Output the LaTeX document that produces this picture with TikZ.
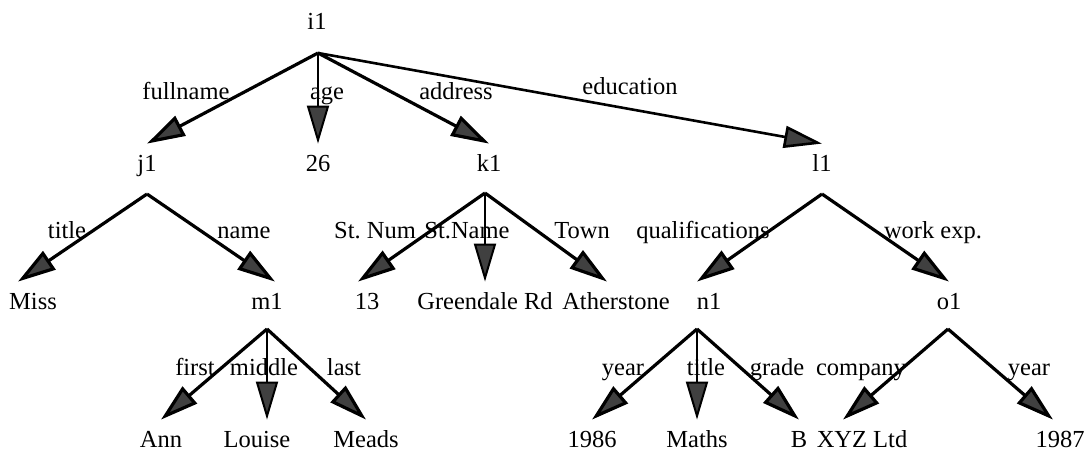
\documentclass[tikz,border=0pt]{standalone}
\usepackage{fontspec}
\setmainfont{Liberation Serif}
\usetikzlibrary{arrows.meta,calc}
\frenchspacing

\begin{document}
\begin{tikzpicture}[
    x=0.5pt, y=-0.5pt,
    txt/.style={anchor=base, inner sep=0pt, font=\fontsize{12.25}{14}\selectfont},
    val/.style={txt, inner ysep=5pt, text height=8.5pt, text depth=0pt},
    lab/.style={txt},
    arc/.style={line width=1.6pt, -{Triangle[length=19pt, width=11pt, fill=black!75]}},
    varc/.style={arc, line width=1pt}
]
\useasboundingbox (0,0) rectangle (1087,451);

\node[val] (i1) at (317,29) {i1};
\node[val] (j1) at (147,171) {j1};
\node[val] (age) at (318,171) {26};
\node[val] (k1) at (489,171) {k1};
\node[val] (l1) at (822,171) {l1};
\node[val] (miss) at (33,309) {Miss};
\node[val] (m1) at (267,309) {m1};
\node[val] (stnum) at (367,309) {13};
\node[val] (stname) at (485,309) {Greendale Rd};
\node[val] (town) at (616,309) {Atherstone};
\node[val] (n1) at (709,309) {n1};
\node[val] (o1) at (949,309) {o1};
\node[val] (first) at (161,447) {Ann};
\node[val] (middle) at (257,447) {Louise};
\node[val] (last) at (366,447) {Meads};
\node[val] (qyear) at (592,447) {1986};
\node[val] (qtitle) at (697,447) {Maths};
\node[val] (grade) at (799,447) {B};
\node[val] (company) at (862,447) {XYZ Ltd};
\node[val] (wyear) at (1060,447) {1987};

\coordinate (i1j) at (318,53);
\coordinate (j1j) at (147,194);
\coordinate (k1j) at (485,193);
\coordinate (l1j) at (822,194);
\coordinate (m1j) at (267,329);
\coordinate (n1j) at (697,329);
\coordinate (o1j) at (948,329);

\node[lab] (lfullname) at (186,99) {fullname};
\node[lab] (lage) at (327,99) {age};
\node[lab] (laddress) at (456,99) {address};
\node[lab] (leducation) at (630,94) {education};
\node[lab] (ltitle) at (67,238) {title};
\node[lab] (lname) at (244,238) {name};
\node[lab] (lstnum) at (375,238) {St. Num};
\node[lab] (lstname) at (467,238) {St.Name};
\node[lab] (ltown) at (582,238) {Town};
\node[lab] (lqual) at (703,238) {qualifications};
\node[lab] (lwork) at (933,238) {work exp.};
\node[lab] (lfirst) at (195,375) {first};
\node[lab] (lmiddle) at (264,375) {middle};
\node[lab] (llast) at (344,375) {last};
\node[lab] (lqyear) at (623,375) {year};
\node[lab] (lqtitle) at (706,375) {title};
\node[lab] (lgrade) at (777,375) {grade};
\node[lab] (lcompany) at (861,375) {company};
\node[lab] (lwyear) at (1029,375) {year};

\draw[arc] (i1j) -- (j1.north);
\draw[varc] (i1j) -- (age.north);
\draw[arc] (i1j) -- (k1.north);
\draw[arc, line width=1.3pt] (i1j) -- (l1.north);
\draw[arc] (j1j) -- ($(miss.north)+(-15,0)$);
\draw[arc] (j1j) -- ($(m1.north)+(8,0)$);
\draw[arc] (k1j) -- ($(stnum.north)+(-9,0)$);
\draw[varc] (k1j) -- (stname.north);
\draw[arc] (k1j) -- ($(town.north)+(-9,0)$);
\draw[arc] (l1j) -- ($(n1.north)+(-12,0)$);
\draw[arc] (l1j) -- (o1.north);
\draw[arc] (m1j) -- (first.north);
\draw[varc] (m1j) -- ($(middle.north)+(10,0)$);
\draw[arc] (m1j) -- (last.north);
\draw[arc] (n1j) -- (qyear.north);
\draw[varc] (n1j) -- (qtitle.north);
\draw[arc] (n1j) -- (grade.north);
\draw[arc] (o1j) -- ($(company.north)+(-19,0)$);
\draw[arc] (o1j) -- ($(wyear.north)+(-7,0)$);
\end{tikzpicture}
\end{document}
